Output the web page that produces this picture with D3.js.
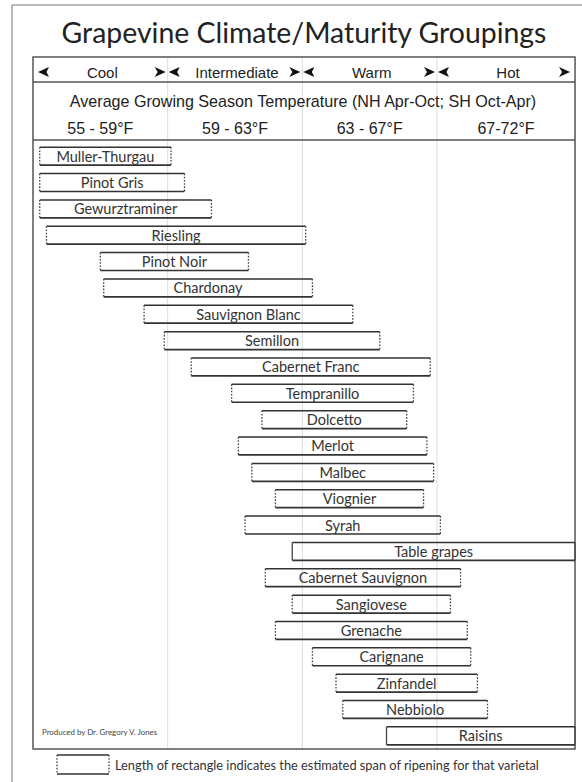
<!DOCTYPE html>
<html>
<head>
<meta charset="utf-8">
<script src="https://cdn.jsdelivr.net/npm/d3@7"></script>
<style>
  html, body { margin: 0; padding: 0; background: #fff; }
  svg text { fill: #222; }
</style>
</head>
<body>
<div id="chart"></div>
<script>
// climate groups and their temperature bounds (°F)
const groups = ["Cool", "Intermediate", "Warm", "Hot"];
const groupRanges = ["55 - 59°F", "59 - 63°F", "63 - 67°F", "67-72°F"];
const groupBreaks = [55, 59, 63, 67, 71.1];

// varietals, ripening span start / end (°F)
const varietals = ["Muller-Thurgau", "Pinot Gris", "Gewurztraminer", "Riesling", "Pinot Noir",
  "Chardonay", "Sauvignon Blanc", "Semillon", "Cabernet Franc", "Tempranillo", "Dolcetto",
  "Merlot", "Malbec", "Viognier", "Syrah", "Table grapes", "Cabernet Sauvignon", "Sangiovese",
  "Grenache", "Carignane", "Zinfandel", "Nebbiolo", "Raisins"];
const spanStart = [55.2, 55.2, 55.2, 55.4, 57.0, 57.1, 58.3, 58.9, 59.7, 60.9, 61.8,
  61.1, 61.5, 62.2, 61.3, 62.7, 61.9, 62.7, 62.2, 63.3, 64.0, 64.2, 65.5];
const spanEnd = [59.1, 59.5, 60.3, 63.1, 61.4, 63.3, 64.5, 65.3, 66.8, 66.3, 66.1,
  66.7, 66.9, 66.6, 67.1, 71.1, 67.7, 67.4, 67.9, 68.0, 68.2, 68.5, 71.1];
// bars whose span runs off the chart are drawn with solid ends
const openEnded = ["Table grapes", "Raisins"];

const W = 582, H = 782;
const svg = d3.select("#chart").append("svg").attr("width", W).attr("height", H);

const x = d3.scaleLinear().domain([55, 67]).range([33, 437]);
const boxL = x(groupBreaks[0]), boxR = x(groupBreaks[4]);
const boxTop = 57, rowLine = 82, headLine = 140, boxBottom = 749;

const y = d3.scaleBand().domain(varietals).range([143, boxBottom])
  .paddingInner(0.32).paddingOuter(0.16);

const sans = "'Liberation Sans', Arial, sans-serif";
const human = "Lato, 'Open Sans', sans-serif";

// page frame
svg.append("rect").attr("x", 12).attr("y", 5).attr("width", 700).attr("height", 900)
  .attr("fill", "none").attr("stroke", "#777").attr("stroke-width", 1);

svg.append("text").attr("x", 304).attr("y", 43).attr("text-anchor", "middle")
  .style("font-family", human).style("font-size", "28.4px")
  .text("Grapevine Climate/Maturity Groupings");

// gridlines at group breaks
svg.selectAll(".grid").data(groupBreaks.slice(1, 4)).enter().append("line")
  .attr("x1", d => x(d)).attr("x2", d => x(d))
  .attr("y1", boxTop).attr("y2", boxBottom)
  .attr("stroke", "#ddd").attr("stroke-width", 1);

// header texts
const mids = groups.map((g, i) => (x(groupBreaks[i]) + x(groupBreaks[i + 1])) / 2);
svg.selectAll(".grp").data(groups).enter().append("text")
  .attr("x", (d, i) => mids[i] + 2).attr("y", 78).attr("text-anchor", "middle")
  .style("font-family", sans).style("font-size", "15px").text(d => d);

svg.append("text").attr("x", 303).attr("y", 107).attr("text-anchor", "middle")
  .style("font-family", sans).style("font-size", "16.1px")
  .text("Average Growing Season Temperature (NH Apr-Oct; SH Oct-Apr)");

svg.selectAll(".rng").data(groupRanges).enter().append("text")
  .attr("x", (d, i) => mids[i]).attr("y", 134).attr("text-anchor", "middle")
  .style("font-family", sans).style("font-size", "16px").text(d => d);

// arrows
const ay = 72;
const leftArrow = x0 => `M${x0},${ay} L${x0 + 11},${ay - 5} L${x0 + 8.5},${ay} L${x0 + 11},${ay + 5} Z`;
const rightArrow = x1 => `M${x1},${ay} L${x1 - 11},${ay - 5} L${x1 - 8},${ay} L${x1 - 11},${ay + 5} Z`;
groupBreaks.forEach((b, i) => {
  const px = x(b);
  if (i < 4) svg.append("path").attr("d", leftArrow(i === 0 ? px + 5 : px + 1)).attr("fill", "#111");
  if (i > 0) svg.append("path").attr("d", rightArrow(i === 4 ? px - 5 : px - 2)).attr("fill", "#111");
});

// box outline and header rules
svg.append("rect").attr("x", boxL).attr("y", boxTop)
  .attr("width", boxR - boxL).attr("height", boxBottom - boxTop)
  .attr("fill", "none").attr("stroke", "#555").attr("stroke-width", 1.5);
[rowLine, headLine].forEach(yy => svg.append("line")
  .attr("x1", boxL).attr("x2", boxR).attr("y1", yy).attr("y2", yy)
  .attr("stroke", "#555").attr("stroke-width", 1.5));

// span bars
function spanBox(g, x0, x1, y0, h, solid) {
  g.append("line").attr("x1", x0).attr("x2", x1).attr("y1", y0).attr("y2", y0)
    .attr("stroke", "#333").attr("stroke-width", 1.5);
  g.append("line").attr("x1", x0).attr("x2", x1).attr("y1", y0 + h).attr("y2", y0 + h)
    .attr("stroke", "#333").attr("stroke-width", 1.7);
  [x0, x1].forEach(xx => g.append("line").attr("x1", xx).attr("x2", xx)
    .attr("y1", y0).attr("y2", y0 + h)
    .attr("stroke", "#444").attr("stroke-width", 1.3)
    .attr("stroke-dasharray", solid ? null : "1.6,1.6"));
}

varietals.forEach((v, i) => {
  const g = svg.append("g");
  const x0 = x(spanStart[i]), x1 = Math.min(x(spanEnd[i]), boxR);
  const y0 = y(v), h = y.bandwidth();
  spanBox(g, x0, x1, y0, h, openEnded.includes(v));
  g.append("text").attr("x", (x0 + x1) / 2).attr("y", y0 + h - 3.5)
    .attr("text-anchor", "middle")
    .style("font-family", human).style("font-size", "14.5px").style("fill", "#333")
    .text(v);
});

svg.append("text").attr("x", 42).attr("y", 735)
  .style("font-family", human).style("font-size", "7.9px").style("fill", "#444")
  .text("Produced by Dr. Gregory V. Jones");

// legend
const lg = svg.append("g");
spanBox(lg, 57, 109, 755, 19, false);
svg.append("text").attr("x", 115).attr("y", 769.5)
  .style("font-family", human).style("font-size", "12.8px").style("fill", "#333")
  .text("Length of rectangle indicates the estimated span of ripening for that varietal");
</script>
</body>
</html>
